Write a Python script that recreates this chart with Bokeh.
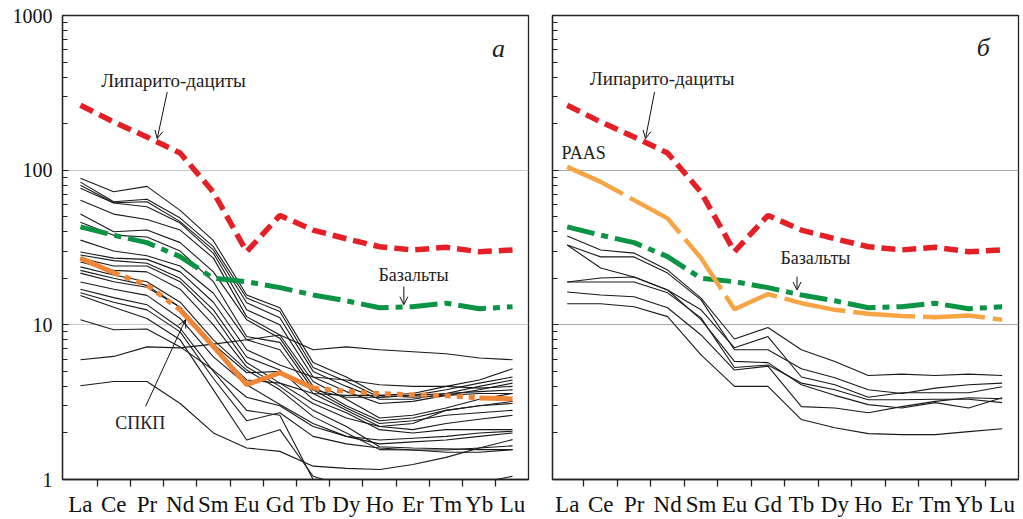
from bokeh.plotting import figure
from bokeh.layouts import row
from bokeh.models import FixedTicker, Label, Arrow, OpenHead, Range1d
from bokeh.embed import file_html
from bokeh.resources import INLINE

elements = ["La", "Ce", "Pr", "Nd", "Sm", "Eu", "Gd", "Tb", "Dy", "Ho", "Er", "Tm", "Yb", "Lu"]

liparite = [263, 205, 164, 129, 72, 29.7, 51, 41, 36, 32, 30.5, 31.7, 29.7, 30.5]
basalt = [43, 38, 34, 27.6, 20, 19, 17.4, 15.6, 14.3, 12.9, 13.1, 13.8, 12.7, 13.1]
spkp = [27, 21.7, 18.1, 12.5, 7.25, 4.1, 4.9, 3.9, 3.71, 3.59, 3.53, 3.48, 3.37, 3.32]
paas = [105, 84, 64, 48.8, 27, 12.6, 15.8, 13.8, 12.5, 11.8, 11.4, 11.2, 11.5, 10.8]

samples_a = [
    [88.8, 72.5, 78.6, 55, 35, 15.6, 12.9, 5.7, 4.6, 3.5, 3.6, 4.0, 4.4, 5.2],
    [83.7, 62.5, 64.8, 49, 32, 14.9, 12.2, 5.3, 4.3, 3.4, 3.5, 3.8, 4.2, 4.6],
    [80.0, 61.6, 62.5, 46.5, 30.5, 13.9, 11.1, 5.0, 4.0, 3.3, 3.3, 3.6, 4.0, 4.4],
    [76.5, 61.3, 58.0, 45.5, 29.0, 12.5, 10.0, 4.6, 3.7, 3.1, 3.2, 3.5, 3.8, 4.2],
    [64.0, 52.0, 48.0, 41.0, 27.0, 11.3, 8.6, 4.3, 3.3, 2.5, 2.6, 2.9, 3.3, 3.6],
    [52.0, 40.0, 41.0, 34.0, 22.0, 10.8, 8.2, 4.0, 3.0, 2.4, 2.5, 2.8, 3.0, 3.1],
    [46.0, 38.0, 37.0, 30.0, 19.0, 8.4, 7.7, 3.8, 2.9, 2.3, 2.4, 2.6, 2.7, 2.8],
    [35.3, 30.0, 28.0, 24.0, 16.0, 8.0, 6.9, 3.6, 2.8, 2.2, 2.1, 2.3, 2.45, 2.6],
    [29.6, 27.0, 26.5, 22.0, 14.0, 6.9, 5.5, 4.6, 4.4, 4.1, 4.0, 4.0, 3.9, 4.0],
    [28.3, 26.0, 25.0, 20.0, 12.5, 6.2, 5.1, 3.3, 2.7, 2.1, 2.0, 2.1, 2.1, 2.1],
    [27.0, 24.0, 24.0, 19.0, 11.5, 5.7, 4.2, 3.1, 2.5, 2.2, 2.3, 2.8, 3.0, 3.2],
    [25.5, 22.5, 22.0, 17.0, 10.0, 5.35, 4.0, 2.8, 2.2, 1.63, 1.6, 1.58, 1.56, 1.56],
    [23.7, 21.0, 19.0, 14.0, 8.0, 5.1, 3.8, 2.55, 2.0, 1.56, 1.55, 1.5, 1.5, 1.56],
    [22.5, 20.0, 18.0, 13.0, 7.5, 4.9, 5.0, 3.8, 3.4, 3.4, 3.5, 3.6, 3.7, 3.8],
    [21.6, 19.0, 17.5, 13.0, 7.0, 4.4, 4.2, 3.6, 3.5, 3.5, 3.4, 3.5, 3.6, 3.6],
    [18.9, 17.0, 15.5, 11.0, 6.2, 4.1, 3.05, 2.3, 1.9, 1.8, 1.85, 1.9, 2.0, 2.05],
    [16.1, 14.0, 12.5, 9.0, 4.5, 2.4, 2.7, 1.9, 1.7, 1.6, 1.55, 1.55, 1.6, 1.65],
    [15.5, 13.0, 11.0, 8.0, 3.8, 1.8, 2.1, 1.05, 0.9, 0.8, 0.8, 0.85, 0.95, 1.05],
    [17.0, 15.0, 13.5, 9.5, 5.0, 2.8, 2.6, 1.0, 0.75, 0.6, 0.6, 0.6, 0.6, 0.6],
    [10.8, 9.3, 9.4, 7.2, 5.1, 3.4, 3.0, 2.2, 1.9, 1.7, 1.75, 1.8, 1.9, 2.0],
    [5.95, 6.25, 7.2, 7.1, 7.5, 8.0, 8.6, 6.9, 7.2, 6.9, 6.7, 6.5, 6.1, 5.95],
    [4.04, 4.3, 4.3, 3.1, 2.0, 1.6, 1.52, 1.22, 1.18, 1.16, 1.25, 1.39, 1.6, 1.81],
]

samples_b = [
    [37.5, 30.5, 29.1, 22.6, 14.9, 8.1, 9.6, 6.9, 5.8, 4.7, 4.8, 4.7, 4.8, 4.7],
    [32.8, 27.5, 27.5, 21.6, 14.5, 6.9, 6.9, 5.2, 4.55, 3.8, 3.6, 3.9, 4.1, 4.2],
    [32.8, 23.3, 20.4, 16.8, 10.8, 5.8, 5.7, 4.1, 3.5, 3.05, 2.9, 3.14, 2.9, 3.38],
    [18.9, 20.1, 20.4, 16.8, 12.5, 7.1, 8.4, 4.6, 4.1, 3.4, 3.64, 3.64, 3.64, 3.98],
    [18.9, 18.9, 18.9, 16.1, 11.1, 5.3, 5.5, 4.2, 3.8, 3.28, 3.28, 3.3, 3.3, 3.14],
    [16.3, 15.6, 15.2, 12.9, 8.6, 5.1, 5.4, 2.96, 2.9, 2.7, 2.96, 3.2, 3.38, 3.33],
    [13.7, 13.7, 13.1, 11.3, 6.4, 4.0, 4.0, 2.44, 2.16, 1.98, 1.95, 1.95, 2.04, 2.13],
]

idx = list(range(len(elements)))
SERIF = "Liberation Serif"
RED = "#e41f26"
GREEN = "#0a9444"
ORANGE = "#f08536"
PAAS_C = "#f7a544"


def make_panel(width, left, right, xr, show_labels, grid_color):
    p = figure(width=width, height=519, y_axis_type="log",
               x_range=Range1d(*xr), y_range=Range1d(1, 1000),
               output_backend="svg", toolbar_location=None,
               min_border_left=left, min_border_right=right,
               min_border_top=15, min_border_bottom=40)
    p.background_fill_color = "white"
    p.border_fill_color = "white"
    p.outline_line_color = "#222222"
    p.outline_line_width = 1.3
    p.xgrid.visible = False
    p.ygrid.ticker = FixedTicker(ticks=[10, 100])
    p.ygrid.grid_line_color = grid_color
    p.ygrid.grid_line_width = 1.2

    xa = p.xaxis[0]
    xa.ticker = FixedTicker(ticks=idx, minor_ticks=[i + 0.5 for i in idx[:-1]])
    xa.major_label_overrides = {i: e for i, e in zip(idx, elements)}
    xa.major_tick_line_color = None
    xa.major_tick_out = 0
    xa.major_tick_in = 0
    xa.minor_tick_line_color = "#222222"
    xa.minor_tick_line_width = 1.3
    xa.minor_tick_out = 7
    xa.minor_tick_in = 0
    xa.axis_line_color = "#222222"
    xa.axis_line_width = 1.3
    xa.major_label_text_font = SERIF
    xa.major_label_text_font_size = "23px"
    xa.major_label_text_color = "#111111"
    xa.major_label_standoff = 5

    ya = p.yaxis[0]
    minors = [m * 10 ** k for k in range(3) for m in range(2, 10)]
    ya.ticker = FixedTicker(ticks=[1, 10, 100, 1000], minor_ticks=minors)
    ya.axis_line_color = "#222222"
    ya.axis_line_width = 1.3
    ya.major_tick_in = 6
    ya.major_tick_out = 0
    ya.minor_tick_in = 5
    ya.minor_tick_out = 0
    ya.major_tick_line_color = "#222222"
    ya.minor_tick_line_color = "#222222"
    ya.major_label_text_font = SERIF
    ya.major_label_text_color = "#111111"
    if show_labels:
        ya.major_label_overrides = {1: "1", 10: "10", 100: "100", 1000: "1000"}
        ya.major_label_text_font_size = "20px"
        ya.major_label_standoff = 10
    else:
        ya.major_label_overrides = {1: "", 10: "", 100: "", 1000: ""}
        ya.major_label_text_font_size = "1px"
        ya.major_label_standoff = 0
    return p


def label(p, x, y, text, size, style="normal"):
    p.add_layout(Label(x=x, y=y, text=text, text_font=SERIF,
                       text_font_size=size, text_font_style=style,
                       text_align="center", text_baseline="middle",
                       text_color="#222222"))


def arrow(p, x0, y0, x1, y1):
    p.add_layout(Arrow(end=OpenHead(size=8, line_width=1, line_color="#111111"),
                       x_start=x0, y_start=y0, x_end=x1, y_end=y1,
                       line_width=1, line_color="#111111"))


# Panel a
pa = make_panel(540, 62, 12, (-0.54, 13.48), True, "#c8c8c8")
for s in samples_a:
    pa.line(idx, s, line_color="#1a1a1a", line_width=1.1)
pa.line(idx, basalt, line_color=GREEN, line_width=5, line_dash="28 7 7 7")
pa.line(idx, liparite, line_color=RED, line_width=5.5, line_dash="14 7")
solid_parts = [(0, 1), (3, 7), (12, 13)]
dotted_parts = [(1, 3), (7, 12)]
for a, b in solid_parts:
    pa.line(idx[a:b + 1], spkp[a:b + 1], line_color=ORANGE, line_width=5)
for a, b in dotted_parts:
    pa.line(idx[a:b + 1], spkp[a:b + 1], line_color=ORANGE, line_width=5,
            line_dash="6 6")
label(pa, 2.8, 380, "Липарито-дациты", "19px")
arrow(pa, 2.61, 320, 2.31, 160)
label(pa, 10.02, 21, "Базальты", "18px")
arrow(pa, 9.73, 17.7, 9.73, 13.5)
label(pa, 1.8, 2.33, "СПКП", "18px")
arrow(pa, 1.96, 2.97, 3.16, 10.8)
label(pa, 12.58, 612, "а", "26px", "italic")

# Panel b
pb = make_panel(483, 12, 5, (-0.44, 13.49), False, "#a8a8a8")
for s in samples_b:
    pb.line(idx, s, line_color="#1a1a1a", line_width=1.1)
pb.line(idx, basalt, line_color=GREEN, line_width=5, line_dash="28 7 7 7")
pb.line(idx, liparite, line_color=RED, line_width=5.5, line_dash="14 7")
pb.line(idx, paas, line_color=PAAS_C, line_width=4.5, line_dash="62 8")
label(pb, 2.84, 390, "Липарито-дациты", "19px")
arrow(pb, 2.61, 320, 2.34, 160)
label(pb, 0.49, 129, "PAAS", "18px")
label(pb, 7.42, 26.9, "Базальты", "18px")
arrow(pb, 6.87, 20.5, 6.87, 16.8)
label(pb, 12.44, 625, "б", "26px", "italic")

layout = row(pa, pb)
open("out.html", "w").write(file_html(layout, INLINE))
